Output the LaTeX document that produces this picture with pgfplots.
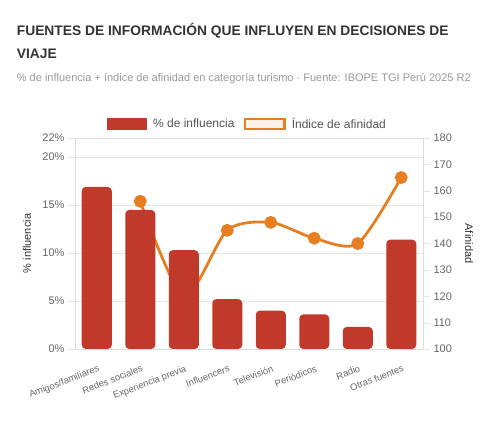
\documentclass[border=0pt]{standalone}
\usepackage{pgfplots}
\pgfplotsset{compat=1.18}
\usepackage{fontspec}
\setmainfont{Liberation Sans}
\definecolor{barred}{HTML}{C0392B}
\definecolor{lineor}{HTML}{E67E22}
\definecolor{peach}{HTML}{FDF2E9}
\definecolor{gridc}{HTML}{E6E6E6}
\definecolor{axc}{HTML}{DDDDDD}
\definecolor{tickc}{HTML}{666666}
\definecolor{titc}{HTML}{333333}
\definecolor{subc}{HTML}{999999}
\definecolor{legc}{HTML}{555555}
\begin{document}
\begin{tikzpicture}
\useasboundingbox (-75pt,-73pt) rectangle (418pt,349pt);
\node[anchor=base west, inner sep=0, font=\fontsize{13.8}{16}\selectfont\bfseries, text=titc] at (-58.3pt,313.7pt) {FUENTES DE INFORMACIÓN QUE INFLUYEN EN DECISIONES DE};
\node[anchor=base west, inner sep=0, font=\fontsize{13.8}{16}\selectfont\bfseries, text=titc] at (-58.3pt,290.7pt) {VIAJE};
\node[anchor=base west, inner sep=0, font=\fontsize{11}{13}\selectfont, text=subc] at (-58.3pt,267pt) {\% de influencia + índice de afinidad en categoría turismo · Fuente: IBOPE TGI Perú 2025 R2};

% Axis A: grid, left axis, x labels
\begin{axis}[
  scale only axis, width=348pt, height=211pt,
  xmin=-0.5, xmax=7.5, ymin=0, ymax=22,
  axis line style={draw=axc},
  ytick={0,5,10,15,20,22},
  yticklabels={0\%,5\%,10\%,15\%,20\%,22\%},
  ytick pos=left, tick align=outside, major tick length=7pt,
  ytick style={draw=gridc},
  xtick={0,1,2,3,4,5,6,7},
  xticklabels={Amigos/familiares,Redes sociales,Experiencia previa,Influencers,Televisión,Periódicos,Radio,Otras fuentes},
  xtick style={draw=none},
  x tick label style={rotate=21, anchor=north east, font=\fontsize{9.4}{11}\selectfont, text=tickc, xshift=1pt, yshift=-5pt},
  y tick label style={font=\fontsize{11}{13}\selectfont, text=tickc},
  ymajorgrids, grid style={draw=gridc},
  ylabel={\% influencia},
  ylabel style={at={(axis description cs:-0.138,0.5)}, anchor=center, font=\fontsize{11}{13}\selectfont, text=titc},
]
\end{axis}

% Axis B: right axis, affinity line (behind bars)
\begin{axis}[
  scale only axis, width=348pt, height=211pt,
  xmin=-0.5, xmax=7.5, ymin=100, ymax=180,
  axis x line=none, axis y line*=right,
  axis line style={draw=axc},
  ytick={100,110,120,130,140,150,160,170,180},
  yticklabels={100,110,120,130,140,150,160,170,180},
  tick align=outside, major tick length=7pt,
  ytick style={draw=gridc},
  y tick label style={font=\fontsize{11}{13}\selectfont, text=tickc},
  ylabel={Afinidad},
  ylabel style={at={(axis description cs:1.132,0.5)}, anchor=center, rotate=180, font=\fontsize{11}{13}\selectfont, text=titc},
]
\addplot[draw=lineor, line width=2.8pt, smooth, tension=0.45, mark=*, mark size=5pt, mark options={solid, fill=lineor, draw=none}]
  coordinates {(1,156) (2,120) (3,145) (4,148) (5,142) (6,140) (7,165)};
\end{axis}

% Axis C: bars on top, legend
\begin{axis}[
  scale only axis, width=348pt, height=211pt,
  xmin=-0.5, xmax=7.5, ymin=0, ymax=22,
  hide axis,
  legend style={at={(0.4957,1)}, anchor=south, yshift=4pt, draw=none, fill=none,
    font=\fontsize{12}{14}\selectfont, text=legc, legend columns=2,
    /tikz/every odd column/.append style={column sep=4pt},
    /tikz/every even column/.append style={column sep=7pt}},
  legend cell align=left,
]
\addplot[ybar, bar width=30pt, fill=barred, draw=none, rounded corners=4pt,
  legend image code/.code={\fill[barred, sharp corners] (0pt,-6pt) rectangle (40pt,6pt);}]
  coordinates {(0,16.9) (1,14.5) (2,10.3) (3,5.2) (4,4.0) (5,3.6) (6,2.3) (7,11.4)};
\addlegendentry{\% de influencia}
\addlegendimage{legend image code/.code={\draw[lineor, line width=2.6pt, fill=peach, sharp corners] (1.3pt,-5pt) rectangle (41pt,5pt);}}
\addlegendentry{Índice de afinidad}
\end{axis}
\end{tikzpicture}
\end{document}
